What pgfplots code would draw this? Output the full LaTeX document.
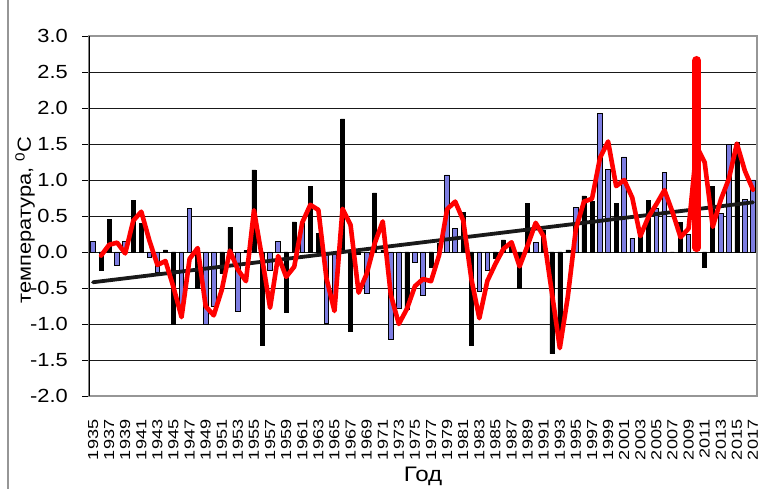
\documentclass[border=0pt]{standalone}
\usepackage{fontspec}
\setmainfont{Liberation Sans}
\newfontfamily\stretchfont[FakeStretch=1.15]{Liberation Sans}
\newfontfamily\xstretchfont[FakeStretch=1.25]{Liberation Sans}
\usepackage{graphicx}
\usepackage{pgfplots}
\pgfplotsset{compat=1.18}
\definecolor{barblue}{RGB}{125,125,225}
\definecolor{framegray}{RGB}{150,150,150}
\begin{document}
\begin{tikzpicture}
\useasboundingbox (0pt,0pt) rectangle (770pt,489pt);
\draw[framegray, line width=1.2pt] (8pt,0pt) -- (8pt,489pt);
\begin{axis}[
  at={(89pt,93pt)}, anchor=south west,
  width=668pt, height=360pt, scale only axis,
  xmin=1934.5, xmax=2017.5, ymin=-2, ymax=3,
  xtick={1935,1937,...,2017},
  ytick={-2,-1.5,...,3},
  ymajorgrids, major grid style={black!90, line width=0.9pt},
  axis line style={framegray, line width=1.3pt},
  tick align=outside, major tick length=7pt,
  ytick pos=left, xtick pos=bottom,
  y tick style={black, line width=0.9pt},
  x tick style={draw=none},
  /pgf/number format/assume math mode=true,
  y tick label style={/pgf/number format/.cd, fixed, fixed zerofill, precision=1, /tikz/.cd, font=\stretchfont\fontsize{19}{19}\selectfont, inner sep=0pt},
  yticklabel shift=14pt,
  x tick label style={/pgf/number format/.cd, 1000 sep={}, /tikz/.cd, rotate=90, anchor=east, inner sep=0pt, font=\xstretchfont\fontsize{14.5}{15}\selectfont},
  xticklabel shift=16.5pt,
  ylabel={температура, \textsuperscript{0}С},
  xlabel={Год},
  every axis y label/.style={at={(axis description cs:-0.0958,0.489)}, rotate=90, anchor=center, font=\stretchfont\fontsize{19}{19}\selectfont},
  every axis x label/.style={at={(axis description cs:0.5,-0.222)}, anchor=center, font=\stretchfont\fontsize{21}{21}\selectfont},
]
% blue-looking bars
\addplot[ybar, bar width=4.6pt, bar shift=0pt, fill=barblue, draw=black, line width=0.9pt] coordinates {
(1935,0.15)(1938,-0.19)(1939,0.15)(1942,-0.08)(1943,-0.28)(1946,-0.80)(1947,0.61)(1949,-1.01)(1950,-0.75)(1953,-0.83)(1957,-0.25)(1958,0.14)(1961,0.40)(1964,-0.99)(1965,-0.65)(1969,-0.58)(1972,-1.22)(1973,-0.78)(1975,-0.15)(1976,-0.60)(1979,1.07)(1980,0.33)(1983,-0.55)(1984,-0.25)(1990,0.13)(1995,0.62)(1998,1.92)(1999,1.15)(2001,1.32)(2002,0.19)(2005,0.61)(2006,1.11)(2009,0.24)(2013,0.54)(2014,1.49)(2016,0.73)(2017,1.00)
};
% black-looking bars
\addplot[ybar, bar width=4pt, bar shift=0pt, fill=black, draw=black, line width=0.5pt] coordinates {
(1936,-0.25)(1937,0.45)(1940,0.72)(1941,0.40)(1944,0.03)(1945,-1.01)(1948,-0.50)(1951,-0.30)(1952,0.34)(1954,0.02)(1955,1.14)(1956,-1.30)(1959,-0.83)(1960,0.42)(1962,0.91)(1963,0.26)(1966,1.85)(1967,-1.10)(1968,-0.03)(1970,0.82)(1971,0.03)(1974,-0.80)(1977,-0.21)(1978,0.12)(1981,0.55)(1982,-1.29)(1985,-0.08)(1986,0.17)(1987,0.10)(1988,-0.50)(1989,0.68)(1991,0.30)(1992,-1.41)(1993,-1.26)(1994,0.03)(1996,0.78)(1997,0.70)(2000,0.68)(2003,0.25)(2004,0.72)(2007,0.00)(2008,0.41)(2011,-0.21)(2012,0.91)(2015,1.52)
};
% linear trend
\addplot[black!90, line width=3.8pt, line cap=round] coordinates {(1935,-0.42)(2017,0.69)};
% 2-year moving average
\addplot[red, line width=4.6pt, line join=round, line cap=round] coordinates {
(1936,-0.05)(1937,0.10)(1938,0.13)(1939,-0.02)(1940,0.435)(1941,0.56)(1942,0.16)(1943,-0.18)(1944,-0.125)(1945,-0.49)
(1946,-0.905)(1947,-0.095)(1948,0.055)(1949,-0.755)(1950,-0.88)(1951,-0.525)(1952,0.02)(1953,-0.245)(1954,-0.405)(1955,0.58)
(1956,-0.08)(1957,-0.775)(1958,-0.055)(1959,-0.345)(1960,-0.205)(1961,0.41)(1962,0.655)(1963,0.585)(1964,-0.365)(1965,-0.82)
(1966,0.60)(1967,0.375)(1968,-0.565)(1969,-0.305)(1970,0.12)(1971,0.425)(1972,-0.595)(1973,-1.00)(1974,-0.79)(1975,-0.475)
(1976,-0.375)(1977,-0.405)(1978,-0.045)(1979,0.595)(1980,0.70)(1981,0.44)(1982,-0.37)(1983,-0.92)(1984,-0.40)(1985,-0.165)
(1986,0.045)(1987,0.135)(1988,-0.20)(1989,0.09)(1990,0.405)(1991,0.215)(1992,-0.555)(1993,-1.335)(1994,-0.615)(1995,0.325)
(1996,0.70)(1997,0.74)(1998,1.31)(1999,1.535)(2000,0.915)(2001,1.00)(2002,0.755)(2003,0.22)(2004,0.485)(2005,0.665)
(2006,0.86)(2007,0.555)(2008,0.205)(2009,0.325)(2010,1.47)(2011,1.245)(2012,0.35)(2013,0.725)(2014,1.015)(2015,1.505)
(2016,1.125)(2017,0.865)
};
% 2010 highlighted
\addplot[red, line width=9pt, line cap=round] coordinates {(2010,0.06)(2010,2.66)};
\draw[black, line width=1.2pt] (rel axis cs:0,0) -- (rel axis cs:0,1);
\end{axis}
\end{tikzpicture}
\end{document}
